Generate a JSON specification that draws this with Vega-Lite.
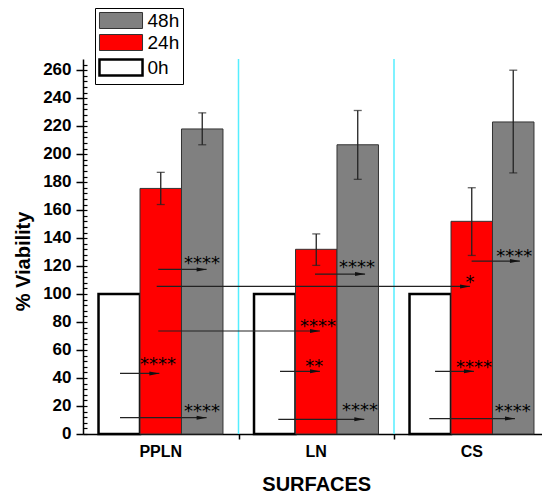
{
  "$schema": "https://vega.github.io/schema/vega-lite/v6.json",
  "width": 459,
  "height": 375,
  "autosize": {"type": "none"},
  "padding": {"left": 83, "top": 59, "right": 0, "bottom": 59},
  "background": "white",
  "config": {
    "view": {"stroke": null},
    "font": "Liberation Sans",
    "axis": {"labelFont": "Liberation Sans", "titleFont": "Liberation Sans", "labelColor": "black", "titleColor": "black", "domainColor": "black", "tickColor": "black", "grid": false}
  },
  "datasets": {
    "bars": [
      {"surface": "PPLN", "time": "0h", "value": 100},
      {"surface": "PPLN", "time": "24h", "value": 175.5, "lo": 164, "hi": 187},
      {"surface": "PPLN", "time": "48h", "value": 218, "lo": 206.7, "hi": 229.5},
      {"surface": "LN", "time": "0h", "value": 100},
      {"surface": "LN", "time": "24h", "value": 132, "lo": 120.5, "hi": 143},
      {"surface": "LN", "time": "48h", "value": 206.7, "lo": 182, "hi": 231.2},
      {"surface": "CS", "time": "0h", "value": 100},
      {"surface": "CS", "time": "24h", "value": 152, "lo": 127.6, "hi": 176},
      {"surface": "CS", "time": "48h", "value": 223, "lo": 186.6, "hi": 260}
    ],
    "bounds": [{"b": 1}, {"b": 2}],
    "arrows": [
      {"x1": 0.484, "x2": 0.795, "y": 117.6},
      {"x1": 0.474, "x2": 2.489, "y": 105.5},
      {"x1": 0.484, "x2": 1.524, "y": 73.6},
      {"x1": 0.238, "x2": 0.491, "y": 43.3},
      {"x1": 0.238, "x2": 0.795, "y": 11.7},
      {"x1": 1.492, "x2": 1.814, "y": 114.3},
      {"x1": 1.267, "x2": 1.524, "y": 44.8},
      {"x1": 1.256, "x2": 1.809, "y": 10.5},
      {"x1": 2.499, "x2": 2.81, "y": 123.6},
      {"x1": 2.264, "x2": 2.514, "y": 44.8},
      {"x1": 2.227, "x2": 2.778, "y": 11}
    ],
    "stars": [
      {"x": 0.765, "y": 124.8, "label": "****"},
      {"x": 2.489, "y": 111.3, "label": "*"},
      {"x": 1.511, "y": 80.2, "label": "****"},
      {"x": 0.482, "y": 52.9, "label": "****"},
      {"x": 0.765, "y": 19.1, "label": "****"},
      {"x": 1.762, "y": 122.4, "label": "****"},
      {"x": 1.487, "y": 51.6, "label": "**"},
      {"x": 1.781, "y": 20, "label": "****"},
      {"x": 2.774, "y": 129.8, "label": "****"},
      {"x": 2.514, "y": 50.5, "label": "****"},
      {"x": 2.763, "y": 19.1, "label": "****"}
    ]
  },
  "layer": [
    {
      "data": {"name": "bounds"},
      "mark": {"type": "rule", "color": "#55eeff", "strokeWidth": 1.5},
      "encoding": {
        "x": {"field": "b", "type": "quantitative", "scale": {"domain": [0, 3], "range": [0, 466.5]},
          "axis": {"orient": "bottom", "values": [1, 2], "labels": false, "domain": false, "tickSize": 5, "tickColor": "black", "tickWidth": 1.5, "title": null, "grid": false}}
      }
    },
    {
      "data": {"name": "bars"},
      "mark": {"type": "bar"},
      "encoding": {
        "x": {"field": "surface", "type": "nominal",
          "scale": {"domain": ["PPLN", "LN", "CS"], "range": [0, 466.5], "paddingInner": 0, "paddingOuter": 0},
          "axis": {"orient": "bottom", "title": "SURFACES", "labelAngle": 0, "labelFontSize": 16, "labelFontWeight": "bold", "labelPadding": 9, "ticks": false, "domainWidth": 1.5, "titleFontSize": 20, "titleFontWeight": "bold", "titleY": 56, "titleBaseline": "alphabetic"}},
        "xOffset": {"field": "time", "type": "nominal", "scale": {"domain": ["0h", "24h", "48h"], "paddingInner": 0, "paddingOuter": 0.374}},
        "y": {"field": "value", "type": "quantitative", "scale": {"domain": [0, 268], "nice": false},
          "axis": {"orient": "left", "values": [0, 20, 40, 60, 80, 100, 120, 140, 160, 180, 200, 220, 240, 260], "labelFontSize": 17, "labelFontWeight": "bold", "tickSize": 7, "tickWidth": 1.5, "labelPadding": 5, "labelOffset": -1, "domainWidth": 1.5, "title": "% Viability", "titleFontSize": 20, "titleFontWeight": "bold", "titleX": -54, "titleY": 202, "titleBaseline": "alphabetic", "titleAngle": 270, "titleAlign": "center"}},
        "fill": {"field": "time", "type": "ordinal", "scale": {"domain": ["48h", "24h", "0h"], "range": ["#808080", "#ff0000", "#ffffff"]},
          "legend": {"orient": "none", "legendX": 12, "legendY": -51, "title": null, "symbolType": "M-2.69,-1H2.69V1H-2.69Z", "symbolSize": 256, "symbolOffset": 13.5, "labelOffset": 17, "labelFontSize": 19, "labelFont": "Liberation Sans", "labelColor": "black", "padding": 3, "rowPadding": 1, "strokeColor": "black", "fillColor": "white", "cornerRadius": 0, "symbolOpacity": 1,
            "encode": {"symbols": {"update": {"strokeWidth": {"signal": "datum.value === '0h' ? 2.5 : 1"}}}}}},
        "stroke": {"field": "time", "type": "ordinal", "scale": {"domain": ["48h", "24h", "0h"], "range": ["#333333", "#333333", "#000000"]},
          "legend": {"orient": "none", "legendX": 12, "legendY": -51, "title": null, "symbolType": "M-2.69,-1H2.69V1H-2.69Z", "symbolSize": 256, "symbolOffset": 13.5, "labelOffset": 17, "labelFontSize": 19, "labelFont": "Liberation Sans", "labelColor": "black", "padding": 3, "rowPadding": 1, "strokeColor": "black", "fillColor": "white", "cornerRadius": 0, "symbolOpacity": 1,
            "encode": {"symbols": {"update": {"strokeWidth": {"signal": "datum.value === '0h' ? 2.5 : 1"}}}}}},
        "strokeWidth": {"condition": {"test": "datum.time === '0h'", "value": 2.5}, "value": 1}
      }
    },
    {
      "data": {"name": "bars"},
      "transform": [{"filter": "isValid(datum.lo)"}],
      "mark": {"type": "rule", "color": "#222222", "strokeWidth": 1.3},
      "encoding": {
        "x": {"field": "surface", "type": "nominal", "scale": {"domain": ["PPLN", "LN", "CS"], "range": [0, 466.5], "paddingInner": 0, "paddingOuter": 0}, "axis": null},
        "xOffset": {"field": "time", "type": "nominal", "scale": {"domain": ["0h", "24h", "48h"], "paddingInner": 0, "paddingOuter": 0.374}},
        "y": {"field": "lo", "type": "quantitative", "axis": null},
        "y2": {"field": "hi"}
      }
    },
    {
      "data": {"name": "bars"},
      "transform": [{"filter": "isValid(datum.lo)"}],
      "mark": {"type": "tick", "color": "#222222", "thickness": 1.3, "size": 8},
      "encoding": {
        "x": {"field": "surface", "type": "nominal", "scale": {"domain": ["PPLN", "LN", "CS"], "range": [0, 466.5], "paddingInner": 0, "paddingOuter": 0}, "axis": null},
        "xOffset": {"field": "time", "type": "nominal", "scale": {"domain": ["0h", "24h", "48h"], "paddingInner": 0, "paddingOuter": 0.374}},
        "y": {"field": "hi", "type": "quantitative", "axis": null}
      }
    },
    {
      "data": {"name": "bars"},
      "transform": [{"filter": "isValid(datum.lo)"}],
      "mark": {"type": "tick", "color": "#222222", "thickness": 1.3, "size": 8},
      "encoding": {
        "x": {"field": "surface", "type": "nominal", "scale": {"domain": ["PPLN", "LN", "CS"], "range": [0, 466.5], "paddingInner": 0, "paddingOuter": 0}, "axis": null},
        "xOffset": {"field": "time", "type": "nominal", "scale": {"domain": ["0h", "24h", "48h"], "paddingInner": 0, "paddingOuter": 0.374}},
        "y": {"field": "lo", "type": "quantitative",
          "axis": {"orient": "right", "offset": -459, "values": [0, 4, 8, 12, 16, 20, 24, 28, 32, 36, 40, 44, 48, 52, 56, 60, 64, 68, 72, 76, 80, 84, 88, 92, 96, 100, 104, 108, 112, 116, 120, 124, 128, 132, 136, 140, 144, 148, 152, 156, 160, 164, 168, 172, 176, 180, 184, 188, 192, 196, 200, 204, 208, 212, 216, 220, 224, 228, 232, 236, 240, 244, 248, 252, 256, 260, 264], "labels": false, "domain": false, "tickSize": 4, "tickWidth": 1.2, "title": null, "grid": false}}
      }
    },
    {
      "data": {"name": "arrows"},
      "mark": {"type": "rule", "color": "#222222", "strokeWidth": 1.2},
      "encoding": {
        "x": {"field": "x1", "type": "quantitative", "scale": {"domain": [0, 3], "range": [0, 466.5]}, "axis": null},
        "x2": {"field": "x2"},
        "y": {"field": "y", "type": "quantitative", "axis": null}
      }
    },
    {
      "data": {"name": "arrows"},
      "mark": {"type": "point", "shape": "M-2,-0.4L0,0L-2,0.4Z", "size": 100, "filled": true, "color": "#111111", "opacity": 1, "strokeWidth": 0},
      "encoding": {
        "x": {"field": "x2", "type": "quantitative", "scale": {"domain": [0, 3], "range": [0, 466.5]}, "axis": null},
        "y": {"field": "y", "type": "quantitative", "axis": null}
      }
    },
    {
      "data": {"name": "stars"},
      "mark": {"type": "text", "font": "DejaVu Sans", "fontSize": 18, "color": "black", "align": "center", "baseline": "alphabetic", "dy": 10},
      "encoding": {
        "x": {"field": "x", "type": "quantitative", "scale": {"domain": [0, 3], "range": [0, 466.5]}, "axis": null},
        "y": {"field": "y", "type": "quantitative", "axis": null},
        "text": {"field": "label"}
      }
    }
  ],
  "resolve": {"scale": {"x": "independent", "xOffset": "independent"}, "axis": {"x": "independent", "y": "independent"}}
}
